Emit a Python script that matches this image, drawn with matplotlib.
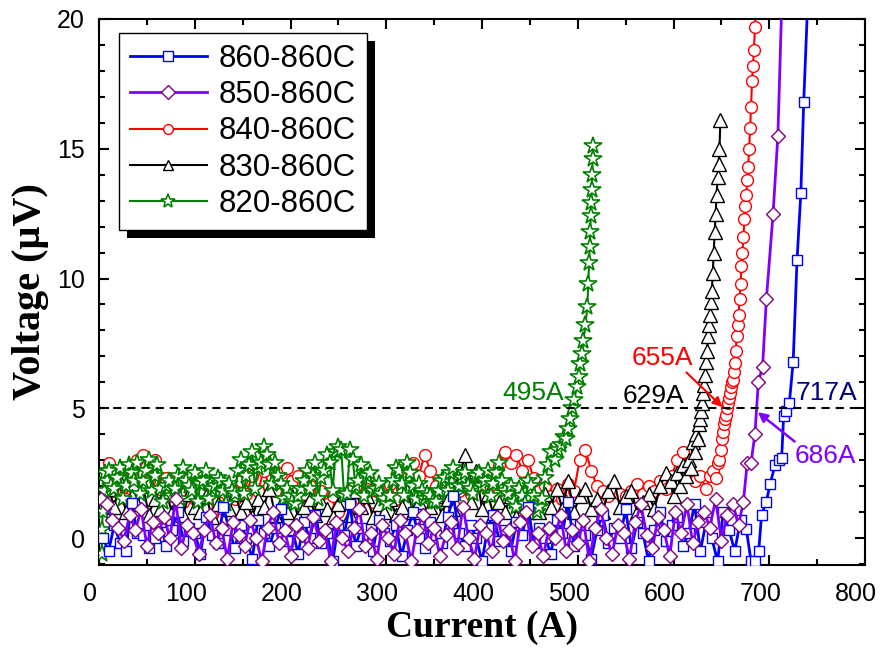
import numpy as np
import matplotlib as mpl
mpl.use('Agg')
import matplotlib.pyplot as plt
from matplotlib.patches import Rectangle
from matplotlib.transforms import ScaledTranslation, IdentityTransform

# ---- data (current in A, voltage in uV) ----
# baseline sweeps are sampled every 6 A, starting at the value in *_start
step = 6

# 860-860C
v_860_base = [0.0, -0.5, 0.5, -0.2, -0.5, 1.35, 0.2, 0.1, -0.4, 0.0, 0.6, -0.3, 0.3, 1.0, -0.1, 0.4,
              0.2, -0.6, 0.8, 0.1, -0.2, 1.2, 0.3, -0.4, 0.5, 0.0, -0.8, 0.7, 0.2, -0.3, 0.4, 1.1,
              -0.1, 0.3, -0.6, 0.6, 0.0, 0.9, -0.2, 0.2, -0.9, 0.5, 0.1, 1.3, -0.3, 0.4, 0.0, -0.5,
              0.7, 0.2, -0.1, 0.5, -0.7, 0.3, 1.0, 0.0, -0.4, 0.6, 0.1, -0.2, 0.8, 1.6, 0.2, -0.3,
              0.5, 0.0, -0.9, 0.4, 0.9, -0.1, 0.3, -0.5, 0.6, 0.1, 1.2, -0.2, 0.4, 0.0, -0.6, 0.7,
              0.2, 1.4, -0.3, 0.5, 0.1, -0.8, 0.3, 0.9, -0.2, 0.4, 0.0, 1.1, -0.4, 0.6, 0.2, -0.9,
              0.3, 1.0, -0.1, 0.5, 0.8, -0.3, 0.2, 1.3, -0.5, 0.6, 0.0, -0.9, 1.0, 0.3, -0.5, 0.7, 0.35]
i_860_start = 4
i_860_rise = [681, 685, 689, 692, 697, 701, 706, 710, 713, 715, 718, 721, 725, 729, 733, 736, 740]
v_860_rise = [-0.9, -0.9, -0.5, 0.9, 1.4, 2.1, 2.8, 3.0, 3.1, 4.7, 4.9, 5.2, 6.8, 10.7, 13.3, 16.8, 20.5]

# 850-860C
v_850_base = [1.5, 1.3, 0.7, 0.4, -0.1, 0.9, 0.3, 1.1, -0.3, 0.6, 0.2, 0.8, 0.0, 1.5, -0.4, 0.5,
              0.2, -0.6, 0.3, 0.9, -0.2, 0.4, -0.8, 0.6, 0.1, -0.3, 0.7, 0.0, -0.9, 0.4, 1.0, -0.2,
              0.3, -0.7, 0.5, 0.1, -0.4, 0.8, -0.1, 0.3, -0.9, 0.6, 0.0, -0.5, 0.4, 1.1, -0.3, 0.2,
              -0.8, 0.5, 0.0, -0.6, 0.7, 0.2, -0.9, 0.3, 0.9, -0.2, 0.4, -0.7, 0.1, 0.6, -0.4, 1.2,
              0.0, -0.8, 0.5, 0.2, -0.5, 0.8, -0.1, 0.3, -0.9, 0.6, 1.0, -0.3, 0.2, -0.7, 0.4, 0.0,
              0.9, -0.5, 0.3, -0.2, 0.7, -0.9, 0.4, 1.1, 0.0, -0.6, 0.5, 0.2, -0.8, 0.6, 1.3, 0.1,
              -0.4, 0.8, 0.3, -0.7, 1.0, 0.2, 1.3, -0.2, 0.6, 1.0, 0.4, 1.5, -0.1, 0.9, 1.3, 0.5]
i_850_start = 2
i_850_rise = [673, 677, 681, 685, 688.6, 693, 697, 704, 709, 713]
v_850_rise = [1.4, 2.9, 2.9, 4.0, 6.0, 6.6, 9.2, 12.5, 15.5, 20.5]

# 840-860C
v_840_base = [2.9, 1.8, 2.4, 1.5, 2.6, 3.0, 3.2, 2.2, 3.0, 1.9, 2.3, 1.6, 2.1, 1.4, 2.0, 1.5,
              1.8, 1.2, 0.9, 1.4, 1.1, 1.8, 1.5, 2.2, 1.7, 2.4, 1.8, 2.6, 2.0, 1.8, 2.5, 2.7,
              2.2, 2.4, 1.7, 2.0, 1.5, 1.8, 1.3, 1.6, 1.0, 1.3, 1.8, 1.2, 1.5, 1.9, 1.4, 2.0,
              1.6, 2.1, 1.5, 1.9, 2.3, 2.9, 2.4, 3.2, 2.6, 2.0, 1.6, 1.5, 1.3, 1.8, 2.2, 1.7,
              2.0, 2.2, 1.9, 2.1, 2.8, 3.3, 2.9, 3.2, 2.6, 3.0, 2.3, 1.8, 2.0, 1.6, 1.9, 1.5,
              2.1, 1.8, 3.0, 3.4, 2.6, 2.0, 1.8, 1.6, 1.9, 1.7, 1.6, 1.8, 2.1, 1.7, 2.0, 1.8,
              2.2, 1.9, 2.4, 3.0, 3.3, 2.6, 2.2, 2.4, 1.9]
i_840_start = 10
i_840_rise = [638, 641, 644, 646, 648, 650, 651, 652, 653, 654, 655, 656, 657, 658, 659, 660, 661,
              662, 663, 664, 665, 666, 667, 668, 669, 670, 671, 672, 673, 674, 675, 676, 677, 678,
              679, 680, 681, 682, 683, 684, 685, 686]
v_840_rise = [2.4, 2.6, 2.3, 2.9, 3.0, 3.4, 3.8, 4.1, 4.4, 4.6, 4.75, 5.0, 5.2, 5.4, 5.6, 5.8, 6.0,
              6.1, 6.4, 6.75, 7.2, 7.8, 8.2, 8.6, 9.2, 9.8, 10.5, 11.0, 11.6, 12.3, 12.8, 13.2, 13.8,
              14.3, 15.0, 15.8, 16.6, 17.6, 18.2, 18.8, 19.7, 20.5]

# 830-860C
v_830_base = [1.9, 1.2, 2.2, 1.0, 1.6, 1.3, 2.0, 0.9, 1.5, 1.1, 1.8, 1.0, 1.4, 0.9, 1.7, 1.2,
              1.0, 1.6, 0.8, 1.3, 2.1, 1.1, 1.7, 1.0, 1.4, 0.8, 1.5, 1.2, 1.9, 0.9, 1.3, 1.0,
              1.6, 0.8, 1.2, 1.5, 0.9, 1.4, 1.1, 0.8, 1.3, 1.7, 0.9, 1.8, 1.2, 1.6, 0.8, 1.3,
              1.0, 1.5, 0.9, 1.2, 1.8, 1.0, 1.4, 0.8, 1.2, 1.6, 0.9, 1.5, 1.1, 2.2, 3.2, 1.4,
              2.6, 1.1, 1.7, 0.9, 1.4, 1.0, 1.6, 0.8, 1.3, 1.0, 1.5, 1.0, 1.7, 1.2, 1.9, 1.1,
              2.2, 1.0, 1.6, 1.9, 1.1, 1.5, 1.0, 1.8, 2.2, 1.2, 1.6, 1.8, 1.0, 1.4, 1.7, 1.1,
              2.0, 2.5]
i_830_start = 10
i_830_rise = [597, 600, 604, 607, 610, 613, 616, 618, 620, 622, 624, 626, 627, 628, 629, 630, 631,
              632, 633, 634, 635, 636, 637, 638, 639, 640, 641, 642, 643, 644, 645, 646, 647, 648, 649]
v_830_rise = [2.2, 1.6, 2.5, 2.0, 2.8, 2.4, 3.0, 2.7, 3.7, 3.3, 4.0, 3.8, 4.4, 4.6, 4.9, 5.2, 5.6,
              5.9, 6.3, 6.8, 7.2, 7.8, 8.2, 8.6, 9.1, 9.5, 10.2, 11.0, 11.8, 12.5, 13.2, 13.9, 14.4,
              15.0, 16.1]

# 820-860C (denser: second pass of readings sits 3 A after the first)
i_820_first = [3, 3, 4, 5, 6, 8]
v_820_first = [-0.6, 0.3, 1.0, 1.8, 2.5, 2.2]
v_820_base = [2.6, 1.9, 2.7, 2.0, 2.5, 2.9, 2.2, 3.0, 2.4, 1.9, 2.0, 1.6, 2.4, 2.7, 2.0, 2.5,
              2.1, 2.6, 1.9, 2.3, 1.8, 2.1, 1.7, 3.0, 2.4, 3.3, 2.7, 3.5, 2.8, 2.9, 2.1, 1.9,
              1.4, 1.6, 2.2, 1.9, 2.9, 2.3, 3.2, 1.8, 3.5, 1.6, 3.4, 2.0, 2.8, 2.4, 1.8, 2.1,
              1.5, 1.6, 2.7, 2.1, 2.9, 2.0, 2.1, 1.5, 1.6, 1.4, 2.2, 1.8, 2.7, 2.0, 2.5, 1.9,
              2.4, 2.0, 2.6, 2.1, 2.9, 1.8, 2.0, 1.2, 1.6, 2.2, 1.6, 1.2, 2.3, 3.3]
v_820_mid = [2.0, 2.3, 1.5, 2.8, 2.2, 1.7, 2.6, 1.8, 2.8, 1.4, 2.2, 1.9, 1.5, 2.2, 1.8, 1.4,
             2.2, 1.5, 2.0, 2.2, 1.3, 1.8, 2.6, 1.7, 2.8, 1.9, 2.9, 3.2, 2.1, 2.4, 1.5, 1.6,
             1.3, 1.9, 2.6, 2.4, 1.5, 2.6, 2.9, 3.3, 3.4, 1.7, 3.0, 2.2, 1.6, 2.5, 1.9, 1.7,
             1.3, 2.2, 2.6, 1.6, 2.5, 1.5, 1.8, 1.7, 1.4, 1.8, 2.3, 2.5, 1.7, 2.3, 2.0, 1.7,
             2.5, 2.2, 1.6, 2.5, 2.2, 1.7, 1.4, 1.9, 1.3, 2.0, 1.0, 1.5, 2.8]
i_820_start = 10
i_820_rise = [476, 479, 482, 486, 488, 490, 492, 494, 496, 499, 501, 502, 504, 506, 508, 510, 511,
              512, 512.5, 513, 513.5, 514, 514.5, 515, 515.5, 516]
v_820_rise = [3.0, 3.4, 3.6, 3.9, 3.8, 4.2, 4.6, 5.0, 5.3, 5.8, 6.2, 6.7, 7.1, 7.6, 8.2, 8.9, 9.8,
              10.6, 11.2, 11.8, 12.4, 12.9, 13.4, 14.0, 14.6, 15.1]

labels = ['860-860C', '850-860C', '840-860C', '830-860C', '820-860C']
crit_text = ['495A', '629A', '655A', '717A', '686A']


def sweep(start, base, rise_i, rise_v, first_i=(), first_v=(), mid=()):
    cur = np.r_[first_i, start + step * np.arange(len(base)),
                start + step / 2 + step * np.arange(len(mid)), rise_i]
    vol = np.r_[first_v, base, mid, rise_v]
    order = np.argsort(cur, kind='stable')
    return cur[order], vol[order]


i_860, v_860 = sweep(i_860_start, v_860_base, i_860_rise, v_860_rise)
i_850, v_850 = sweep(i_850_start, v_850_base, i_850_rise, v_850_rise)
i_840, v_840 = sweep(i_840_start, v_840_base, i_840_rise, v_840_rise)
i_830, v_830 = sweep(i_830_start, v_830_base, i_830_rise, v_830_rise)
i_820, v_820 = sweep(i_820_start, v_820_base, i_820_rise, v_820_rise, i_820_first, v_820_first, v_820_mid)

plt.rcParams['font.family'] = ['Liberation Sans', 'DejaVu Sans']

fig = plt.figure(figsize=(8.82, 6.5), dpi=100)
ax = fig.add_axes([99 / 882, 1 - 565 / 650, 766 / 882, 546 / 650])

violet = '#8000ff'
l840, = ax.plot(i_840, v_840, color='red', lw=1.5, marker='o', ms=8.5, mfc='white', mec='red', mew=1.0, zorder=2)
l830, = ax.plot(i_830, v_830, color='black', lw=1.5, marker='^', ms=9.5, mfc='white', mec='black', mew=1.0, zorder=3)
l820, = ax.plot(i_820, v_820, color='green', lw=1.5, marker='*', ms=13, mfc='white', mec='green', mew=1.2, zorder=4)
l860, = ax.plot(i_860, v_860, color='blue', lw=2, marker='s', ms=6.5, mfc='white', mec='blue', mew=1.0, zorder=5)
l850, = ax.plot(i_850, v_850, color=violet, lw=2, marker='D', ms=7, mfc='white', mec='#800080', mew=1.0, zorder=6)

ax.axhline(5, color='black', lw=1.5, dashes=(3.9, 2.9), zorder=7)

ax.set_xlim(0, 800)
ax.set_ylim(-1.04, 20)
ax.set_xticks(np.arange(0, 801, 100))
ax.set_xticks(np.arange(0, 801, 50), minor=True)
ax.set_yticks([0, 5, 10, 15, 20])
ax.set_yticks(np.arange(-1, 20.1, 1), minor=True)
ax.tick_params(which='both', direction='in', top=True, right=True, width=1.5)
ax.tick_params(which='major', length=7.5, labelsize=18)
ax.tick_params(which='minor', length=4)
ax.tick_params(axis='x', pad=12)
ax.tick_params(axis='y', pad=10)
for s in ax.spines.values():
    s.set_linewidth(1.5)
for lab in ax.get_xticklabels():
    lab.set_transform(lab.get_transform() + ScaledTranslation(-0.09, 0, fig.dpi_scale_trans))

ax.set_xlabel('Current (A)', fontsize=27, fontweight='bold', family='Liberation Serif', labelpad=3)
ax.set_ylabel('Voltage (\u03bcV)', fontsize=29, fontweight='bold', family='Liberation Serif', labelpad=6)

# critical current labels
ax.text(453, 5.33, crit_text[0], color='green', fontsize=19, ha='center', va='baseline', zorder=8)
ax.text(579, 5.22, crit_text[1], color='black', fontsize=19, ha='center', va='baseline', zorder=8)
ax.annotate(crit_text[2], xy=(651, 5.05), xytext=(588, 6.68), color='red', fontsize=19,
            ha='center', va='baseline', zorder=8,
            arrowprops=dict(arrowstyle='-|>', color='red', lw=1.5, mutation_scale=14,
                            shrinkA=0, shrinkB=0, relpos=(0.85, 0.0)))
ax.text(760, 5.33, crit_text[3], color='#000080', fontsize=19, ha='center', va='baseline', zorder=8)
ax.annotate(crit_text[4], xy=(688, 4.85), xytext=(759, 2.88), color=violet, fontsize=19,
            ha='center', va='baseline', zorder=8,
            arrowprops=dict(arrowstyle='-|>', color=violet, lw=1.8, mutation_scale=14,
                            shrinkA=0, shrinkB=0, relpos=(0.05, 1.0)))

leg = ax.legend([l860, l850, l840, l830, l820], labels, loc='upper left',
                bbox_to_anchor=((119 - 99) / 766, 1 - (33 - 19) / 546), fontsize=22.5,
                handlelength=2.45, handletextpad=0.4, labelspacing=0.2, borderpad=0.35,
                borderaxespad=0, numpoints=1, fancybox=False, framealpha=1, edgecolor='black')
leg.get_frame().set_linewidth(1.0)
leg.set_zorder(10)
for h in leg.legend_handles:
    h.set_markersize(7)
leg.legend_handles[4].set_markersize(10)

fig.canvas.draw()
bb = leg.get_window_extent()
ax.add_patch(Rectangle((bb.x0 + 8, bb.y0 - 8), bb.width, bb.height, transform=IdentityTransform(),
                       facecolor='black', edgecolor='none', zorder=9, clip_on=False))

fig.savefig('out.png', dpi=100)
plt.close(fig)
